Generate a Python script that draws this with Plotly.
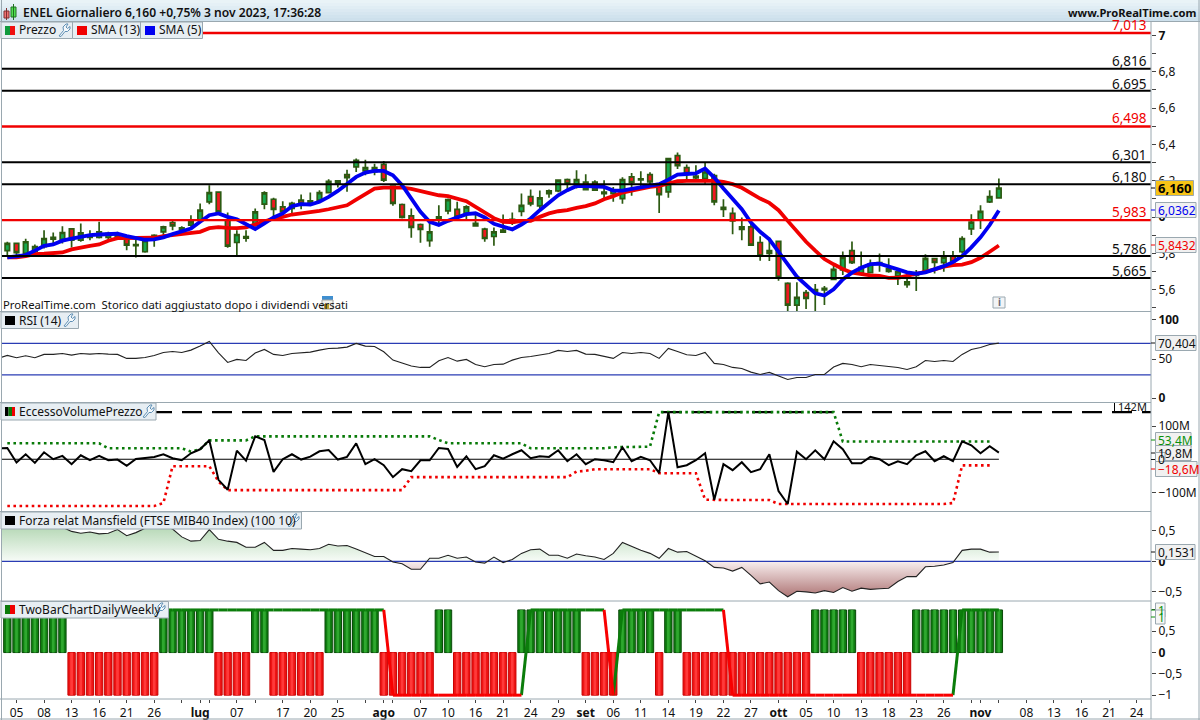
import plotly.graph_objects as go

# ---------- data ----------
price_open = [5.815,5.855,5.800,5.809,5.837,5.888,5.877,5.935,5.873,5.888,
 5.888,5.888,5.892,5.888,5.842,5.809,5.888,5.919,5.970,5.932,
 5.956,5.983,6.084,6.137,5.983,5.860,5.893,5.956,6.071,6.098,
 6.056,6.047,6.093,6.082,6.093,6.135,6.184,6.234,6.276,6.254,
 6.248,6.290,6.170,6.069,6.007,5.959,5.870,5.987,6.034,6.042,
 6.020,5.965,5.934,5.893,5.917,5.987,6.031,6.113,6.062,6.144,
 6.144,6.206,6.181,6.192,6.192,6.129,6.129,6.102,6.221,6.204,
 6.234,6.166,6.139,6.338,6.272,6.215,6.212,6.228,6.053,6.020,
 5.932,5.946,5.860,5.800,5.866,5.635,5.515,5.584,5.591,5.599,
 5.657,5.709,5.815,5.690,5.694,5.741,5.716,5.677,5.628,5.679,
 5.705,5.771,5.749,5.785,5.809,5.935,5.983,6.084,6.106]
price_high = [5.864,5.859,5.881,5.849,5.928,5.915,5.950,5.937,5.965,5.928,
 5.974,5.919,5.919,5.901,5.892,5.892,5.906,5.952,5.983,5.950,
 6.010,6.075,6.175,6.140,6.025,5.928,5.928,6.047,6.142,6.106,
 6.087,6.084,6.124,6.135,6.148,6.208,6.203,6.261,6.322,6.316,
 6.294,6.309,6.175,6.075,6.047,5.965,5.968,6.065,6.102,6.084,
 6.065,6.020,5.941,5.943,6.014,6.025,6.129,6.151,6.146,6.151,
 6.206,6.212,6.258,6.236,6.203,6.203,6.166,6.219,6.243,6.252,
 6.247,6.175,6.327,6.355,6.289,6.285,6.298,6.239,6.098,6.053,
 5.998,5.965,5.895,5.888,5.868,5.641,5.641,5.599,5.632,5.621,
 5.730,5.811,5.866,5.811,5.767,5.800,5.773,5.709,5.687,5.709,
 5.796,5.774,5.813,5.813,5.895,6.016,6.065,6.148,6.212]
price_low = [5.791,5.791,5.791,5.800,5.827,5.855,5.855,5.833,5.864,5.873,
 5.882,5.877,5.882,5.818,5.778,5.804,5.837,5.901,5.928,5.901,
 5.946,5.968,6.071,6.020,5.831,5.791,5.864,5.946,6.043,6.001,
 6.010,6.014,6.043,6.065,6.084,6.129,6.162,6.139,6.248,6.230,
 6.230,6.193,6.062,5.992,5.886,5.859,5.837,5.956,6.016,5.992,
 5.983,5.946,5.864,5.842,5.913,5.956,6.005,6.060,6.038,6.106,
 6.137,6.148,6.157,6.148,6.144,6.102,6.084,6.073,6.117,6.157,
 6.166,6.023,6.106,6.265,6.203,6.203,6.184,6.065,6.001,5.906,
 5.873,5.842,5.760,5.758,5.650,5.47,5.47,5.494,5.47,5.516,
 5.654,5.681,5.741,5.687,5.690,5.699,5.694,5.626,5.611,5.593,
 5.699,5.690,5.699,5.745,5.800,5.901,5.934,6.078,6.102]
price_close = [5.855,5.804,5.864,5.837,5.882,5.879,5.915,5.873,5.913,5.901,
 5.919,5.910,5.904,5.846,5.849,5.870,5.899,5.946,5.952,5.941,
 5.974,6.038,6.135,6.029,5.840,5.904,5.884,6.029,6.133,6.042,
 6.029,6.075,6.075,6.089,6.135,6.197,6.199,6.217,6.312,6.272,
 6.272,6.203,6.075,5.998,5.943,5.932,5.919,6.001,6.096,6.001,
 6.056,5.952,5.882,5.919,5.928,5.968,6.064,6.073,6.106,6.129,
 6.203,6.184,6.206,6.151,6.148,6.137,6.148,6.206,6.190,6.210,
 6.193,6.124,6.322,6.283,6.239,6.225,6.248,6.084,6.042,5.979,
 5.946,5.846,5.787,5.815,5.668,5.515,5.558,5.553,5.601,5.608,
 5.712,5.778,5.749,5.723,5.741,5.749,5.701,5.699,5.644,5.690,
 5.773,5.751,5.780,5.754,5.882,5.972,6.031,6.113,6.160]
sma5 = [5.778,5.785,5.791,5.815,5.842,5.849,5.870,5.881,5.892,5.901,
 5.904,5.906,5.908,5.895,5.884,5.875,5.877,5.888,5.906,5.919,
 5.937,5.974,6.010,6.020,6.001,5.988,5.961,5.934,5.965,5.998,
 6.020,6.060,6.071,6.069,6.084,6.111,6.144,6.184,6.221,6.245,
 6.254,6.254,6.230,6.175,6.102,6.029,5.974,5.957,5.979,5.998,
 6.016,6.021,5.998,5.963,5.946,5.932,5.959,5.992,6.038,6.078,
 6.120,6.148,6.171,6.171,6.171,6.166,6.146,6.146,6.155,6.162,
 6.171,6.181,6.206,6.234,6.237,6.241,6.267,6.217,6.157,6.102,
 6.043,5.970,5.919,5.877,5.809,5.736,5.672,5.626,5.580,5.568,
 5.602,5.657,5.694,5.721,5.741,5.743,5.730,5.712,5.696,5.688,
 5.696,5.712,5.730,5.752,5.785,5.833,5.888,5.956,6.0362]
sma13 = [5.778,5.778,5.785,5.796,5.798,5.800,5.805,5.822,5.833,5.842,
 5.849,5.870,5.884,5.884,5.882,5.881,5.886,5.895,5.901,5.910,
 5.913,5.919,5.939,5.945,5.941,5.939,5.943,5.961,5.974,5.992,
 6.001,6.014,6.020,6.025,6.034,6.043,6.056,6.065,6.096,6.129,
 6.157,6.162,6.164,6.162,6.155,6.142,6.129,6.120,6.115,6.100,
 6.087,6.056,6.023,5.994,5.974,5.972,5.978,5.979,6.001,6.020,
 6.032,6.038,6.051,6.060,6.075,6.098,6.115,6.135,6.146,6.157,
 6.166,6.171,6.184,6.197,6.199,6.199,6.201,6.199,6.193,6.181,
 6.161,6.129,6.102,6.078,6.038,5.979,5.919,5.864,5.815,5.769,
 5.740,5.714,5.694,5.685,5.679,5.676,5.665,5.666,5.676,5.685,
 5.699,5.712,5.727,5.736,5.738,5.752,5.776,5.809,5.8432]
levels_black = [6.816,6.695,6.301,6.180,5.786,5.665]
levels_red = [7.013,6.498,5.983]

# indicators start one bar before the first candle
rsi = [50.9,54.7,51.7,54.3,51.7,56.0,56.0,57.2,55.1,57.2,56.4,57.2,56.4,56.0,50.9,50.9,52.1,54.7,58.5,59.8,
 58.5,61.5,66.6,72.6,58.1,45.7,49.6,48.3,57.7,62.3,56.0,54.7,57.2,57.7,58.9,61.5,63.6,64.0,65.3,70.0,
 66.6,66.2,59.4,48.7,45.3,41.1,39.4,39.4,47.9,52.1,47.4,49.6,43.2,40.2,43.2,43.6,
 48.7,52.1,53.4,55.5,57.2,61.1,59.8,61.1,56.4,56.0,53.4,50.9,58.5,57.2,58.5,57.2,50.9,63.6,59.8,55.5,
 54.7,58.5,44.5,43.2,39.4,38.1,33.4,30.4,33.0,28.3,24.0,26.6,26.6,30.4,30.4,39.8,44.5,43.2,40.2,43.2,
 41.9,40.2,39.4,36.8,40.2,48.3,47.0,48.3,47.0,56.0,62.3,64.9,68.7,70.404]
rsi_bands = [70, 30]
pvo = [32,34,-10,15,-11,21,0,10,-15,12,-3,10,-3,-1,-20,1,4,7,15,3,-3,18,30,57,-62,-92,26,-4,69,58,-38,0,15,-1,8,24,28,-1,7,48,
 -15,0,-18,-54,-30,-36,-3,-3,34,31,-23,9,-30,-21,12,2,
 15,27,3,9,7,27,-6,15,-15,0,-3,-9,36,-6,7,-3,-42,142,-24,-18,-3,18,-122,-15,-33,-9,-39,-30,15,-96,-135,23,0,27,0,54,30,-12,-12,7,
 0,-18,-6,-15,12,24,-6,9,-6,54,42,18,39,19.8]
pvo_upper = [48]*11 + [33]*9 + [23,30,57,57,57,57,57] + [69]*20 + [58] + [48]*9 + [33]*9 + [36,36,37,37,38] + [142]*20 + [53.4]*17
pvo_lower = [-141]*17 + [-132] + [-21]*5 + [-67] + [-93]*20 + [-54]*18 + [-37,-35] + [-30]*7 + [-42]*5 + [-122] + [-123]*7 + [-135]*19 + [-132] + [-18.6]*4
pvo_peak = 142
mansfield = [0.60,0.60,0.62,0.61,0.63,0.60,0.58,0.56,
 0.49,0.46,0.48,0.45,0.46,0.52,0.42,0.47,0.54,0.57,0.57,0.53,0.40,0.33,0.34,0.52,0.36,0.33,0.31,0.23,0.23,0.31,
 0.18,0.18,0.21,0.20,0.19,0.21,0.28,0.25,0.26,0.20,0.14,0.08,0.08,-0.01,-0.04,-0.13,-0.13,0.05,0.05,0.10,0.05,0.07,-0.01,-0.03,0.07,
 -0.02,0.03,0.13,0.19,0.20,0.10,0.10,0.05,0.12,0.09,0.07,0.03,0.13,0.31,0.24,0.18,0.13,0.05,0.21,0.15,0.16,0.09,0.01,
 -0.10,-0.11,-0.16,-0.10,-0.23,-0.37,-0.34,-0.48,-0.58,-0.49,-0.50,-0.52,-0.48,-0.51,-0.43,-0.49,-0.44,-0.46,-0.45,-0.44,-0.33,-0.25,-0.25,
 -0.09,-0.08,-0.06,-0.02,0.18,0.20,0.20,0.15,0.1531]
daily_state = [1]*7 + [-1]*10 + [1]*6 + [-1]*4 + [1]*2 + [-1]*6 + [1]*6 + [-1]*6 + [1]*2 + [-1]*7 + [1]*7 + [-1]*4 + [1]*4 + [-1] + [1]*2 + [-1]*14 + [1]*5 + [-1]*6 + [1]*10
weekly_state = [1]*42 + [-1]*15 + [1]*9 + [-1] + [1]*12 + [-1]*25 + [1]*5
tick_pos = [1,4,7,10,13,16,19,21,22,25,27,30,33,36,39,41,42,45,48,51,54,57,60,63,66,69,72,75,78,81,84,87,90,93,96,99,102,105,106,108,111,114,117,120,123]
tick_txt = ["05","08","13","16","21","26","","<b>lug</b>","","07","","17","20","25","","<b>ago</b>","","07","10","16","21","24","29","<b>set</b>","06","11","14","19","22","27","<b>ott</b>","05","10","13","18","23","26","","<b>nov</b>","","08","13","16","21","24"]

# ---------- layout helpers (pixels on the 1200x720 page) ----------
FONT = "Noto Sans"
W, H = 1200, 720
AX_R = 1151
def px(x): return x / W
def py(y): return 1 - y / H
def dom(top, bottom): return [py(bottom), py(top)]

shapes, annots = [], []
def rect(x0, y0, x1, y1, fill, line=None, lw=1):
    shapes.append(dict(type="rect", xref="paper", yref="paper", x0=px(x0), x1=px(x1), y0=py(y0), y1=py(y1),
                       fillcolor=fill, line=dict(color=line or "rgba(0,0,0,0)", width=lw if line else 0), layer="above"))
def seg(x0, y0, x1, y1, color, lw=1):
    shapes.append(dict(type="line", xref="paper", yref="paper", x0=px(x0), x1=px(x1), y0=py(y0), y1=py(y1),
                       line=dict(color=color, width=lw), layer="above"))
def text(x, y, s, size=12, color="#111", anchor="left", weight=None):
    f = dict(family=FONT, size=size, color=color)
    if weight: f["weight"] = weight
    annots.append(dict(xref="paper", yref="paper", x=px(x), y=py(y), text=s, showarrow=False,
                       xanchor=anchor, yanchor="middle", font=f, borderpad=0, borderwidth=0))
def wrench(x, y):
    pts = [(1,12),(5.5,6.5),(5,3),(8,0),(10,0),(8,3),(9.5,4.5),(12,2.5),(12,5),(9.5,7.5),(7,7.5),(3,12.5)]
    p = "M" + " L".join(f"{px(x+a):.5f},{py(y+b):.5f}" for a, b in pts) + " Z"
    shapes.append(dict(type="path", xref="paper", yref="paper", path=p, fillcolor="#f4f8fb",
                       line=dict(color="#5f8fb4", width=1), layer="above"))
def legend_box(x0, y0, x1, y1):
    rect(x0, y0, x1, y1, "#e7eef3", "#9aa8b0")
def badge(x0, x1, yc, s, color, fill="#f1f1f1", size=12, weight=None, h=7.5):
    seg(AX_R, yc, AX_R + 4, yc, color)
    rect(x0, yc - h, x1, yc + h, fill, "#9aa8b0")
    text(x0 + 2, yc, s, size=size, color=color, weight=weight)

# ---------- traces ----------
idx = list(range(len(price_close)))
idx_ind = list(range(-1, len(price_close)))
EDGE = "#2c5a12"
fig = go.Figure()
fig.add_trace(go.Candlestick(x=idx, open=price_open, high=price_high, low=price_low, close=price_close,
    increasing=dict(line=dict(color=EDGE, width=1.7), fillcolor="#17a84e"),
    decreasing=dict(line=dict(color=EDGE, width=1.7), fillcolor="#f01820"),
    whiskerwidth=0, yaxis="y", xaxis="x", showlegend=False))
fig.add_trace(go.Scatter(x=idx, y=sma13, mode="lines", line=dict(color="#f00000", width=3.8), yaxis="y"))
fig.add_trace(go.Scatter(x=idx, y=sma5, mode="lines", line=dict(color="#0000f0", width=3.8), yaxis="y"))
XR = [-0.58, 124.57]
for lv in levels_black:
    fig.add_trace(go.Scatter(x=XR, y=[lv, lv], mode="lines", line=dict(color="#000", width=2), yaxis="y"))
for lv in levels_red:
    fig.add_trace(go.Scatter(x=XR, y=[lv, lv], mode="lines", line=dict(color="#f00000", width=2.4), yaxis="y"))

for b in rsi_bands:
    fig.add_trace(go.Scatter(x=XR, y=[b, b], mode="lines", line=dict(color="#2a3cb4", width=1.2), yaxis="y2"))
fig.add_trace(go.Scatter(x=idx_ind, y=rsi, mode="lines", line=dict(color="#222", width=1.1), yaxis="y2"))

fig.add_trace(go.Scatter(x=XR, y=[pvo_peak, pvo_peak], mode="lines", line=dict(color="#000", width=2.2, dash="20px,10px"), yaxis="y3"))
fig.add_trace(go.Scatter(x=[-1, idx[-1]], y=[0, 0], mode="lines", line=dict(color="#000", width=1.2), yaxis="y3"))
fig.add_trace(go.Scatter(x=idx, y=pvo_upper, mode="lines", line=dict(color="#087a08", width=2.6, dash="2.6px,3.5px"), yaxis="y3"))
fig.add_trace(go.Scatter(x=idx, y=pvo_lower, mode="lines", line=dict(color="#f00000", width=2.6, dash="2.6px,3.5px"), yaxis="y3"))
fig.add_trace(go.Scatter(x=idx_ind, y=pvo, mode="lines", line=dict(color="#000", width=2), yaxis="y3"))

pos = [max(v, 0) for v in mansfield]
neg = [min(v, 0) for v in mansfield]
fig.add_trace(go.Scatter(x=idx_ind, y=pos, mode="none", fill="tozeroy", yaxis="y4",
    fillgradient=dict(type="vertical", start=0, stop=0.6, colorscale=[[0, "#f8fcf8"], [1, "#b2d6b2"]])))
fig.add_trace(go.Scatter(x=idx_ind, y=neg, mode="none", fill="tozeroy", yaxis="y4",
    fillgradient=dict(type="vertical", start=-0.6, stop=0, colorscale=[[0, "#ab7070"], [1, "#f8eeee"]])))
fig.add_trace(go.Scatter(x=XR, y=[0, 0], mode="lines", line=dict(color="#2a3cb4", width=1.2), yaxis="y4"))
fig.add_trace(go.Scatter(x=idx_ind, y=mansfield, mode="lines", line=dict(color="#222", width=1.1), yaxis="y4"))

fig.add_trace(go.Bar(x=idx, y=daily_state, width=0.8, yaxis="y5",
    marker=dict(color=["#0f7d10" if s > 0 else "#ee1414" for s in daily_state],
                line=dict(color=["#0a4a0a" if s > 0 else "#c80000" for s in daily_state], width=1))))
fig.add_trace(go.Bar(x=idx, y=daily_state, width=0.3, yaxis="y5",
    marker=dict(color=["#2fa82f" if s > 0 else "#ff3a3a" for s in daily_state], line=dict(width=0))))
gx, gy, rx, ry = [], [], [], []
for i in range(len(weekly_state) - 1):
    tx, ty = (gx, gy) if weekly_state[i + 1] > 0 else (rx, ry)
    tx += [i, i + 1, None]
    ty += [weekly_state[i], weekly_state[i + 1], None]
fig.add_trace(go.Scatter(x=gx, y=gy, mode="lines", line=dict(color="#0b7d0b", width=3), yaxis="y5"))
fig.add_trace(go.Scatter(x=rx, y=ry, mode="lines", line=dict(color="#f80000", width=3), yaxis="y5"))

# ---------- chrome ----------
bands = ["#e9f3f7", "#e5f0f6", "#e0edf4", "#dbe9f2", "#d6e6f0", "#d1e3ee", "#cde0ec"]
for k, c in enumerate(bands):
    rect(0, k * 3, 1200, (k + 1) * 3 + 0.5, c)
seg(0, 21.5, 1200, 21.5, "#9aa8b0")
seg(1.5, 0, 1.5, 720, "#9aa8b0")
seg(AX_R, 21, AX_R, 719, "#9aa8b0")
seg(0, 719, 1200, 719, "#9aa8b0")
seg(1199, 0, 1199, 720, "#9aa8b0")
for yy in (311.5, 402.5, 511.5, 601, 699):
    seg(0, yy, AX_R, yy, "#9aa8b0")

# header icon and text
rect(4, 11, 9, 18, "#f07070", "#803030")
seg(6.5, 8, 6.5, 20, "#803030")
rect(11, 7, 16, 17, "#50e050", "#207020")
seg(13.5, 4, 13.5, 20, "#207020")
text(23, 12, "ENEL Giornaliero 6,160 +0,75% 3 nov 2023, 17:36:28", size=12.1, weight=600)
text(1196, 12, "www.ProRealTime.com", size=11.2, anchor="right", weight=700)

# indicator legends
legend_box(1, 22, 72.5, 38.5); legend_box(72.5, 22, 140.5, 38.5); legend_box(140.5, 22, 202.5, 38.5)
rect(5, 26, 10, 35, "#0f9a3c"); rect(10, 26, 15, 35, "#f01010"); text(19, 30, "Prezzo", size=12); wrench(58, 24)
rect(77, 26, 87, 35, "#f00000"); text(91, 30, "SMA (13)", size=12)
rect(145, 26, 155, 35, "#0000f0"); text(159, 30, "SMA (5)", size=12)
legend_box(1, 312, 78.5, 328.5)
rect(5, 316, 15, 325, "#000"); text(19, 320, "RSI (14)", size=12); wrench(63, 314)
legend_box(1, 403, 156, 420)
rect(5, 407, 8.5, 416, "#000"); rect(8.5, 407, 12, 416, "#0a7a0a"); rect(12, 407, 15, 416, "#f00000")
text(19, 411.5, "EccessoVolumePrezzo", size=12); wrench(142, 405)
legend_box(1, 512, 301.5, 529)
rect(5, 516, 15, 525, "#000"); text(19, 520.5, "Forza relat Mansfield (FTSE MIB40 Index) (100 10)", size=12); wrench(287, 514)
legend_box(1, 601.5, 168.5, 618)
rect(5, 605, 10, 614, "#0a7a0a"); rect(10, 605, 15, 614, "#f00000")
text(19, 609.5, "TwoBarChartDailyWeekly", size=12); wrench(153, 603)

# footer notes of the price panel
text(3, 304.5, "ProRealTime.com  Storico dati aggiustato dopo i dividendi versati", size=11.3)
rect(322, 296, 333, 300, "#3f8fd0"); rect(322, 300, 333, 309, "rgba(235,235,225,0.75)", "#a0a0a0")
rect(324, 304, 329, 309, "#b89a30")
rect(993, 297, 1005, 308, "#f2f4f6", "#9aa8b0"); text(999, 302.5, "i", size=10, color="#667", anchor="center", weight=700)

# level labels
for lv, yy in zip(levels_black, [61, 84, 154.5, 176.5, 248.5, 270.5]):
    text(1147, yy, f"{lv:.3f}".replace(".", ","), size=13.5, anchor="right")
for lv, yy in zip(levels_red, [25.5, 118.5, 212.5]):
    text(1147, yy, f"{lv:.3f}".replace(".", ","), size=13.5, color="#f00000", anchor="right")

# value badges
badge(1155.5, 1193.5, 188, "6,160", "#000", fill="#f7c416", size=13, weight=700)
badge(1155.5, 1196, 210, "6,0362", "#0000f0")
badge(1155.5, 1196, 245, "5,8432", "#f00000")
badge(1155.5, 1196, 343, "70,404", "#111")
badge(1155.5, 1191, 440, "53,4M", "#0a900a")
badge(1155.5, 1191, 453, "19,8M", "#111")
badge(1155.5, 1165, 459.5, "0", "#111", fill="#f6f6f6", h=7)
badge(1155.5, 1197, 469, "\u221218,6M", "#f00000")
badge(1155.5, 1195, 552, "0,1531", "#111")
badge(1155.5, 1165, 610, "1", "#0a900a", fill="#f6f6f6", h=7)
badge(1155.5, 1165, 617, "1", "#0a900a", fill="#f6f6f6", h=7)
# 142M peak marker
seg(1114.5, 403, 1114.5, 412, "#000")
text(1118, 406.5, "142M", size=11)

TICKF = dict(family=FONT, size=12, color="#111")
def yax(top, bottom, rng, vals, txt, **kw):
    return dict(domain=dom(top, bottom), range=rng, anchor="x", side="right", showgrid=False, zeroline=False,
                showline=False, ticks="outside", ticklen=4, tickwidth=1, tickcolor="#444",
                tickmode="array", tickvals=vals, ticktext=txt, tickfont=TICKF, fixedrange=True, **kw)

price_ticks = [7, 6.9, 6.8, 6.7, 6.6, 6.5, 6.4, 6.3, 6.2, 6.1, 6, 5.9, 5.8, 5.7, 5.6, 5.5]
price_txt = ["<b>7</b>", "", "6,8", "", "6,6", "", "6,4", "", "6,2", "", "<b>6</b>", "", "5,8", "", "5,6", ""]
fig.update_layout(
    width=W, height=H + 4, margin=dict(l=0, r=0, t=0, b=0), autosize=False,
    paper_bgcolor="white", plot_bgcolor="white", showlegend=False, barmode="overlay", boxgap=0.3,
    shapes=shapes, annotations=annots,
    xaxis=dict(domain=[px(2), px(AX_R)], range=XR, anchor="y5", rangeslider=dict(visible=False),
               showgrid=False, zeroline=False, showline=False, ticks="outside", ticklen=3, tickcolor="#444",
               tickmode="array", tickvals=tick_pos, ticktext=tick_txt, tickangle=0, tickfont=TICKF, fixedrange=True),
    yaxis=yax(22, 311, [5.483, 7.0735], price_ticks, price_txt),
    yaxis2=yax(311.5, 402.5, [-5.4, 110.8], [100, 50, 0], ["<b>100</b>", "50", "<b>0</b>"]),
    yaxis3=yax(402.5, 511.5, [-157.5, 171], [100, 0, -100], ["100M", "<b>0</b>", "\u2212100M"]),
    yaxis4=yax(511.5, 601, [-0.65, 0.816], [0.5, 0, -0.5], ["0,5", "<b>0</b>", "\u22120,5"]),
    yaxis5=yax(601, 699, [-1.09, 1.21], [1, 0.5, 0, -0.5, -1], ["", "0,5", "<b>0</b>", "\u22120,5", "\u22121"]),
)
page_fix = ("var s=document.createElement('style');"
            "s.textContent='html,body{margin:0;padding:0;overflow:hidden}"
            "body>div{display:block;line-height:0}';"
            "document.head.appendChild(s);")
fig.write_html("out.html", post_script=page_fix, config=dict(displayModeBar=False))
